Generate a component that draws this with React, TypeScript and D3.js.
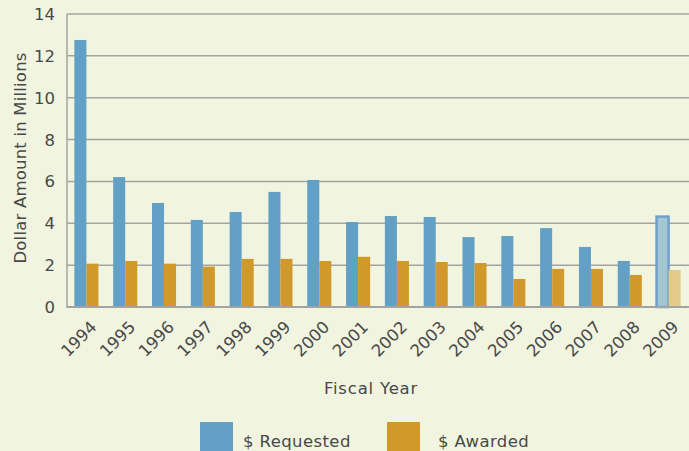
import React from "react";
import * as d3 from "d3";

const years = ["1994","1995","1996","1997","1998","1999","2000","2001","2002","2003","2004","2005","2006","2007","2008","2009"];
const requested = [12.76, 6.21, 4.97, 4.16, 4.54, 5.5, 6.07, 4.06, 4.35, 4.3, 3.34, 3.39, 3.77, 2.87, 2.2, 4.32];
const awarded = [2.07, 2.2, 2.07, 1.93, 2.3, 2.3, 2.2, 2.4, 2.2, 2.15, 2.1, 1.34, 1.82, 1.82, 1.53, 1.77];
const yTicks = [0, 2, 4, 6, 8, 10, 12, 14];
const seriesNames = ["$ Requested", "$ Awarded"];

const W = 689, H = 451;
const left = 67, right = 688, top = 14, bottom = 307;
const BLUE = "#62a0c6", ORANGE = "#d1992b";
const TEXT = "#484848";
const FONT = "'DejaVu Sans', sans-serif";

export default function App() {
  const x = d3.scaleBand<string>().domain(years).range([left, right]).paddingInner(0.38).paddingOuter(0.19);
  const xs = d3.scaleBand<string>().domain(seriesNames).range([0, x.bandwidth()]);
  const y = d3.scaleLinear().domain([0, 14]).range([bottom, top]);
  const last = years.length - 1;

  return (
    <svg width={W} height={H} style={{ position: "absolute", left: 0, top: 0 }} fontFamily={FONT}>
      <rect x={0} y={0} width={W} height={H} fill="#f1f5e0" />
      {yTicks.filter(t => t > 0).map(t => (
        <line key={t} x1={left} x2={W} y1={y(t)} y2={y(t)} stroke="#a3a3a3" strokeWidth={1.5} />
      ))}
      {yTicks.map(t => (
        <text key={"l" + t} x={55} y={y(t)} dy="0.36em" textAnchor="end" fontSize={16.5} fill={TEXT}>{t}</text>
      ))}
      {years.map((yr, i) => {
        const x0 = x(yr)!;
        const hi = i === last;
        return (
          <g key={yr}>
            <rect x={x0 + xs("$ Requested")!} y={y(requested[i])} width={xs.bandwidth()} height={y(0) - y(requested[i])}
              fill={hi ? "#a3c6d3" : BLUE} stroke={hi ? "#6f9fca" : "none"} strokeWidth={hi ? 2.5 : 0} />
            <rect x={x0 + xs("$ Awarded")!} y={y(awarded[i])} width={xs.bandwidth()} height={y(0) - y(awarded[i])}
              fill={hi ? "#e3cb8a" : ORANGE} />
          </g>
        );
      })}
      <line x1={left} x2={W} y1={bottom} y2={bottom} stroke="#a3a3a3" strokeWidth={2} />
      <line x1={left} x2={left} y1={top} y2={bottom + 1} stroke="#a3a3a3" strokeWidth={1.5} />
      {years.map(yr => {
        const cx = x(yr)! + x.bandwidth() / 2 + 3;
        const cy = 320;
        return (
          <text key={"x" + yr} transform={`translate(${cx},${cy}) rotate(-45)`} textAnchor="end" dy="0.7em" fontSize={16.5} fill={TEXT}>{yr}</text>
        );
      })}
      <text transform={`translate(26,158) rotate(-90)`} textAnchor="middle" fontSize={16.5} letterSpacing={0.2} fill={TEXT}>Dollar Amount in Millions</text>
      <text x={371} y={394} textAnchor="middle" fontSize={16.5} letterSpacing={0.8} fill={TEXT}>Fiscal Year</text>
      <rect x={200} y={422} width={33} height={33} fill={BLUE} />
      <text x={243} y={447} fontSize={16.5} letterSpacing={0.4} fill={TEXT}>{seriesNames[0]}</text>
      <rect x={387} y={422} width={33} height={33} fill={ORANGE} />
      <text x={438} y={447} fontSize={16.5} letterSpacing={0.4} fill={TEXT}>{seriesNames[1]}</text>
    </svg>
  );
}
